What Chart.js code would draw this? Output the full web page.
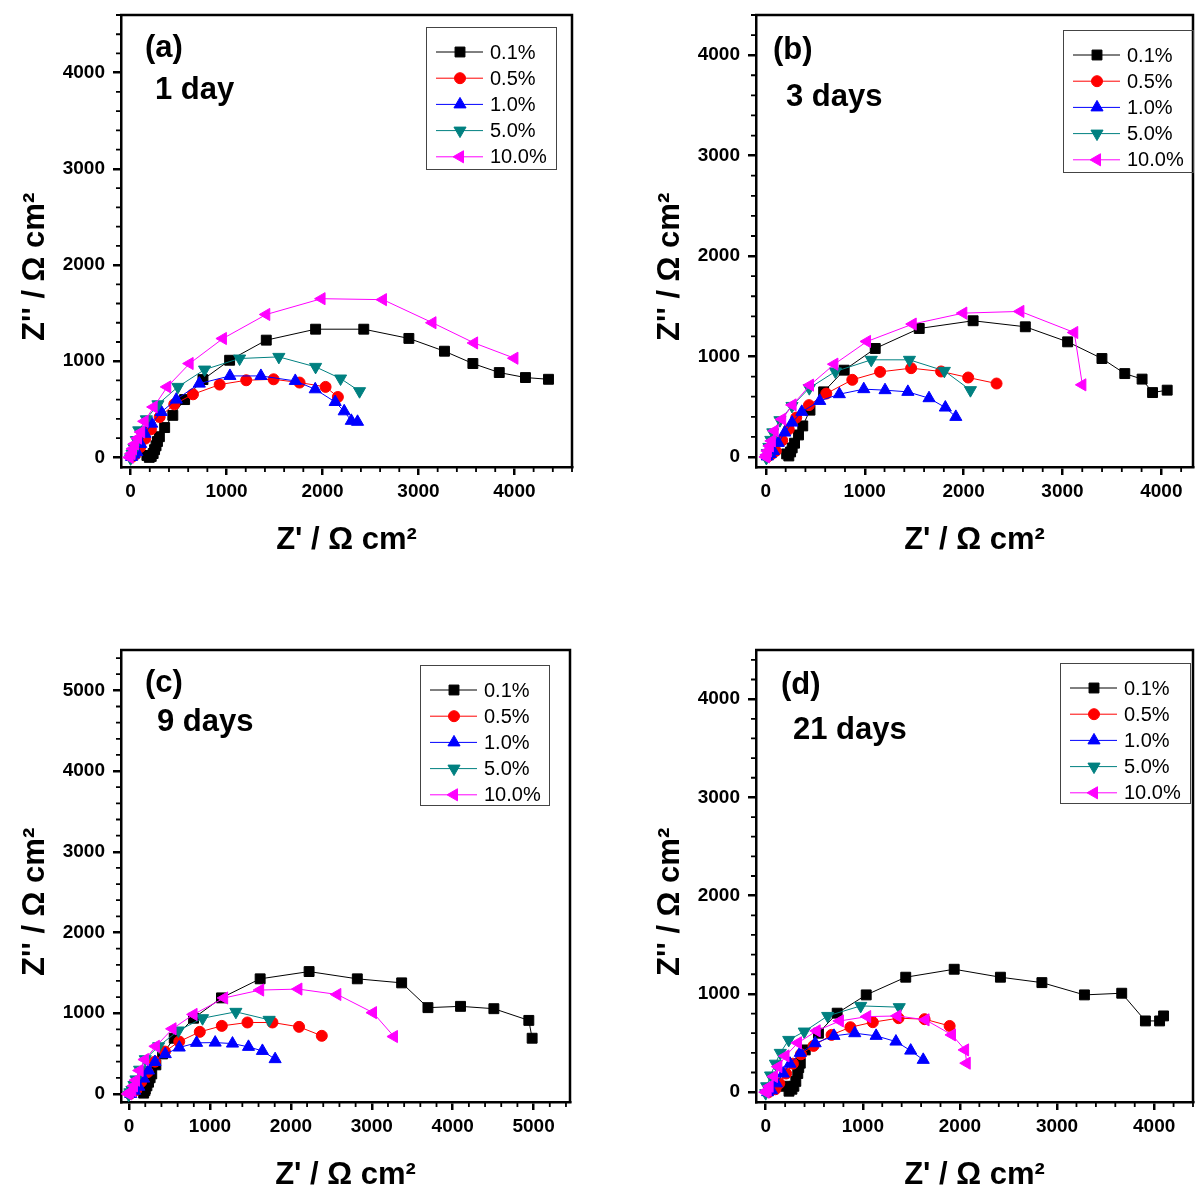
<!DOCTYPE html>
<html>
<head>
<meta charset="utf-8">
<script src="https://cdn.jsdelivr.net/npm/chart.js@4.4.1/dist/chart.umd.min.js"></script>
<style>
  html, body { margin: 0; padding: 0; background: #fff; overflow: hidden; }
  #wrap { position: relative; width: 1197px; height: 1192px; overflow: hidden; }
  canvas { position: absolute; }
</style>
</head>
<body>
<div id="wrap">
  <canvas id="pa" width="580" height="557" style="left:0;top:0"></canvas>
  <canvas id="pb" width="566" height="557" style="left:635px;top:0"></canvas>
  <canvas id="pc" width="578" height="557" style="left:0;top:635px"></canvas>
  <canvas id="pd" width="566" height="557" style="left:635px;top:635px"></canvas>
</div>
<script>
// ---- data (Z' , Z'' in ohm cm2) ----
var concentrations = ["0.1%", "0.5%", "1.0%", "5.0%", "10.0%"];
var panelTags = ["(a)", "(b)", "(c)", "(d)"];
var immersionTimes = ["1 day", "3 days", "9 days", "21 days"];
var tickValues = [0, 1000, 2000, 3000, 4000, 5000];

// 1 day
var d1_c01 = [[170,20],[195,0],[215,10],[235,40],[250,80],[265,120],[280,165],[300,215],[355,310],[440,437],[563,601],[754,809],[1032,1010],[1414,1219],[1928,1333],[2430,1333],[2900,1237],[3271,1104],[3567,976],[3842,882],[4115,830],[4355,812]];
var d1_c05 = [[15,5],[50,30],[100,107],[153,195],[212,292],[303,420],[455,552],[650,656],[928,757],[1205,802],[1490,812],[1761,778],[2032,733],[2160,628]];
var d1_c10 = [[10,5],[35,30],[65,55],[105,140],[150,246],[220,351],[320,472],[476,601],[716,767],[1035,847],[1358,847],[1716,795],[1924,708],[2132,576],[2226,479],[2300,380],[2365,370]];
var d1_c50 = [[0,-10],[15,40],[35,100],[60,180],[85,281],[164,396],[285,552],[493,733],[771,913],[1136,1028],[1545,1045],[1928,941],[2188,820],[2386,688]];
var d1_c100 = [[-10,0],[10,40],[25,90],[45,140],[77,200],[110,264],[146,375],[240,524],[382,733],[615,976],[962,1236],[1414,1486],[1990,1650],[2630,1640],[3146,1400],[3580,1190],[4000,1031]];

// 3 days
var d3_c01 = [[210,30],[232,10],[250,50],[266,90],[290,137],[330,219],[373,309],[446,466],[584,648],[792,864],[1106,1080],[1551,1279],[2096,1356],[2624,1296],[3052,1146],[3399,980],[3630,830],[3805,775],[3911,641],[4059,665]];
var d3_c05 = [[20,5],[60,30],[100,60],[165,166],[231,276],[307,392],[436,516],[611,631],[874,768],[1155,847],[1469,884],[1772,851],[2046,791],[2333,731]];
var d3_c10 = [[15,5],[45,30],[76,60],[125,140],[191,243],[264,342],[363,449],[545,558],[743,625],[990,675],[1205,665],[1436,648],[1650,585],[1815,492],[1921,399]];
var d3_c50 = [[5,-10],[15,40],[30,100],[50,170],[70,245],[142,366],[264,508],[439,685],[703,851],[1066,967],[1452,967],[1805,857],[2069,665]];
var d3_c100 = [[0,0],[10,20],[20,60],[40,110],[60,160],[89,260],[165,376],[270,518],[446,715],[693,924],[1023,1150],[1485,1323],[1997,1432],[2574,1449],[3119,1239],[3201,718]];

// 9 days
var d9_c01 = [[180,10],[195,40],[200,60],[220,100],[240,145],[260,200],[280,248],[331,360],[414,496],[558,690],[797,938],[1142,1190],[1620,1426],[2225,1516],[2821,1426],[3369,1376],[3694,1069],[4097,1085],[4509,1056],[4941,911],[4982,690]];
var d9_c05 = [[10,0],[40,20],[90,50],[150,150],[230,270],[320,400],[443,525],[620,649],[874,769],[1146,843],[1463,885],[1772,885],[2101,831],[2382,720]];
var d9_c10 = [[20,0],[70,40],[120,90],[180,190],[240,290],[320,395],[447,493],[620,575],[834,633],[1064,636],[1278,624],[1476,583],[1648,533],[1805,431]];
var d9_c50 = [[-5,-10],[10,20],[35,50],[60,110],[85,180],[130,300],[200,430],[365,590],[610,786],[908,938],[1320,1017],[1731,918]];
var d9_c100 = [[-10,0],[10,20],[40,40],[60,100],[85,170],[130,290],[196,426],[331,590],[537,807],[797,985],[1175,1189],[1620,1287],[2093,1299],[2574,1232],[3015,1007],[3274,711]];

// 21 days
var d21_c01 = [[200,60],[240,10],[270,30],[290,60],[310,110],[330,190],[340,250],[356,295],[407,430],[543,600],[736,804],[1035,990],[1442,1170],[1941,1251],[2417,1170],[2844,1115],[3282,990],[3666,1007],[3910,725],[4056,725],[4097,776]];
var d21_c05 = [[30,0],[100,30],[140,90],[210,190],[280,290],[363,386],[492,471],[678,583],[872,661],[1103,712],[1368,753],[1636,743],[1894,674]];
var d21_c10 = [[20,0],[60,20],[110,90],[180,190],[250,290],[356,400],[509,498],[703,573],[917,600],[1137,573],[1341,515],[1493,423],[1622,329]];
var d21_c50 = [[0,-10],[10,60],[50,170],[100,290],[150,400],[237,532],[397,617],[638,776],[978,878],[1375,865]];
var d21_c100 = [[0,0],[20,20],[40,60],[85,160],[130,260],[204,369],[332,502],[525,624],[764,725],[1045,769],[1357,776],[1646,736],[1918,583],[2053,430],[2070,295]];

var panelSeries = [
    [d1_c01, d1_c05, d1_c10, d1_c50, d1_c100],
    [d3_c01, d3_c05, d3_c10, d3_c50, d3_c100],
    [d9_c01, d9_c05, d9_c10, d9_c50, d9_c100],
    [d21_c01, d21_c05, d21_c10, d21_c50, d21_c100]
];

// ---- styling ----
var colors = ["#000000", "#ff0000", "#0000ff", "#008080", "#ff00ff"];
var markers = [
    { style: "rect", rot: 0, r: 7 },
    { style: "circle", rot: 0, r: 5.5 },
    { style: "triangle", rot: 0, r: 7 },
    { style: "triangle", rot: 180, r: 7 },
    { style: "triangle", rot: 270, r: 7 }
];
var FONT = 'Arial, "Liberation Sans", sans-serif';

var panels = [
    { id: "pa", xMax: 4600, yMax: 4600, padRight: 8,
      tag: [145, 48], time: [155, 90], legend: { x: 426, y: 27, w: 130, h: 142 } },
    { id: "pb", xMax: 4320, yMax: 4400, padRight: 2,
      tag: [138, 50], time: [151, 97], legend: { x: 428, y: 30, w: 130, h: 142 } },
    { id: "pc", xMax: 5450, yMax: 5500, padRight: 8,
      tag: [145, 48], time: [157, 87], legend: { x: 420, y: 30, w: 129, h: 140 } },
    { id: "pd", xMax: 4400, yMax: 4500, padRight: 2,
      tag: [146, 50], time: [158, 95], legend: { x: 425, y: 28, w: 130, h: 140 } }
];

// major ticks only at whole thousands
function majorOnly(scale) {
    scale.ticks = tickValues
        .filter(function (v) { return v >= scale.min && v <= scale.max; })
        .map(function (v) { return { value: v }; });
}
function plainLabel(v) { return String(v); }

var decor = {
    id: "decor",
    afterDraw: function (chart, args, opts) {
        var ctx = chart.ctx, a = chart.chartArea, x = chart.scales.x, y = chart.scales.y, v, p;
        ctx.save();
        // top and right frame
        ctx.strokeStyle = "#000";
        ctx.lineWidth = 2.5;
        ctx.beginPath();
        ctx.moveTo(a.left - 1, a.top);
        ctx.lineTo(a.right, a.top);
        ctx.lineTo(a.right, a.bottom + 1);
        ctx.stroke();
        // minor ticks every 200
        ctx.lineWidth = 1.8;
        ctx.beginPath();
        for (v = Math.ceil(x.min / 200) * 200; v <= x.max; v += 200) {
            if (v % 1000 === 0) continue;
            p = x.getPixelForValue(v);
            ctx.moveTo(p, a.bottom);
            ctx.lineTo(p, a.bottom + 5);
        }
        for (v = Math.ceil(y.min / 200) * 200; v <= y.max; v += 200) {
            if (v % 1000 === 0) continue;
            p = y.getPixelForValue(v);
            ctx.moveTo(a.left, p);
            ctx.lineTo(a.left - 5, p);
        }
        ctx.stroke();

        // panel tag and immersion time
        ctx.fillStyle = "#000";
        ctx.textBaseline = "middle";
        ctx.textAlign = "left";
        ctx.font = "bold 31px " + FONT;
        ctx.fillText(opts.tagText, opts.tag[0], opts.tag[1]);
        ctx.fillText(opts.timeText, opts.time[0], opts.time[1]);

        // legend box
        var L = opts.legend;
        ctx.strokeStyle = "#444";
        ctx.lineWidth = 1;
        ctx.strokeRect(L.x + 0.5, L.y + 0.5, L.w, L.h);
        ctx.font = "20px " + FONT;
        chart.data.datasets.forEach(function (ds, i) {
            var ry = L.y + 25 + i * 26.2;
            ctx.strokeStyle = ds.borderColor;
            ctx.lineWidth = 1;
            ctx.beginPath();
            ctx.moveTo(L.x + 10, ry);
            ctx.lineTo(L.x + 57, ry);
            ctx.stroke();
            ctx.fillStyle = ds.backgroundColor;
            Chart.helpers.drawPoint(ctx, {
                pointStyle: ds.pointStyle, rotation: ds.rotation,
                radius: ds.pointRadius, borderWidth: 1
            }, L.x + 34, ry);
            ctx.fillStyle = "#000";
            ctx.fillText(ds.label, L.x + 64, ry + 1);
        });
        ctx.restore();
    }
};

panels.forEach(function (pn, k) {
    var datasets = panelSeries[k].map(function (s, i) {
        return {
            label: concentrations[i],
            data: s.map(function (p) { return { x: p[0], y: p[1] }; }),
            showLine: true,
            borderColor: colors[i],
            backgroundColor: colors[i],
            borderWidth: 1,
            pointStyle: markers[i].style,
            rotation: markers[i].rot,
            pointRadius: markers[i].r,
            pointBorderWidth: 1,
            order: 5 - i
        };
    });
    new Chart(document.getElementById(pn.id), {
        type: "scatter",
        data: { datasets: datasets },
        options: {
            responsive: false,
            animation: false,
            events: [],
            layout: { padding: { top: 15, right: pn.padRight, left: 0, bottom: 0 } },
            plugins: {
                legend: { display: false },
                tooltip: { enabled: false },
                decor: { tagText: panelTags[k], timeText: immersionTimes[k], tag: pn.tag, time: pn.time, legend: pn.legend }
            },
            scales: {
                x: {
                    type: "linear", min: -100, max: pn.xMax,
                    afterBuildTicks: majorOnly,
                    afterFit: function (s) { s.height = 90; s.paddingLeft = 0; s.paddingRight = 0; },
                    grid: { drawOnChartArea: false, tickLength: 8, lineWidth: 2.5, color: "#000" },
                    border: { width: 2.5, color: "#000" },
                    ticks: { padding: 5, maxRotation: 0, autoSkip: false, color: "#000", callback: plainLabel,
                             font: { family: FONT, size: 19, weight: "bold" } },
                    title: { display: true, text: "Z' / \u03a9 cm\u00b2", color: "#000", padding: { top: 0, bottom: 1.5 },
                             font: { family: FONT, size: 31, weight: "bold", lineHeight: 1 } }
                },
                y: {
                    type: "linear", min: -100, max: pn.yMax,
                    afterBuildTicks: majorOnly,
                    afterFit: function (s) { s.width = 121; s.paddingTop = 0; s.paddingBottom = 0; },
                    grid: { drawOnChartArea: false, tickLength: 8, lineWidth: 2.5, color: "#000" },
                    border: { width: 2.5, color: "#000" },
                    ticks: { padding: 8, autoSkip: false, color: "#000", callback: plainLabel,
                             font: { family: FONT, size: 19, weight: "bold" } },
                    title: { display: true, text: "Z'' / \u03a9 cm\u00b2      ", color: "#000", padding: { top: 20, bottom: 0 },
                             font: { family: FONT, size: 31, weight: "bold", lineHeight: 1 } }
                }
            }
        },
        plugins: [decor]
    });
});
</script>
</body>
</html>
